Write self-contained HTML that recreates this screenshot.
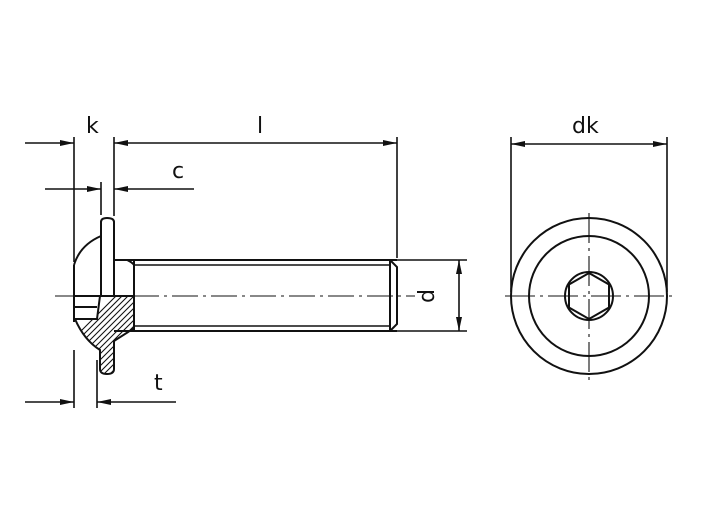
<!DOCTYPE html>
<html><head><style>body{margin:0;background:#fff}svg{display:block}text{font-family:"DejaVu Sans","Liberation Sans",sans-serif;font-size:22px;fill:#111}</style></head>
<body>
<svg width="706" height="519" viewBox="0 0 706 519" xmlns="http://www.w3.org/2000/svg">
<defs>
<marker id="a" viewBox="0 0 14 6" refX="14" refY="3" markerWidth="14" markerHeight="6" orient="auto" markerUnits="userSpaceOnUse"><path d="M0,0L14,3L0,6z" fill="#111"/></marker>
<clipPath id="c"><path d="M100,296 L134,296 L134,328 Q130,331 114,341 L114,369 Q114,374 107,374 Q100,374 100,369 L100,350 Q84,340 75,319 L97,319 Z"/></clipPath>
</defs>
<g clip-path="url(#c)" stroke="#111" stroke-width="1.1">
<path d="M40,420 L180,280 M46,420 L186,280 M52,420 L192,280 M58,420 L198,280 M64,420 L204,280 M70,420 L210,280 M76,420 L216,280 M82,420 L222,280 M88,420 L228,280 M94,420 L234,280 M100,420 L240,280 M106,420 L246,280 M112,420 L252,280 M118,420 L258,280 M124,420 L264,280 M130,420 L270,280 M34,420 L174,280 M28,420 L168,280 M22,420 L162,280 M16,420 L156,280 M10,420 L150,280 M4,420 L144,280 M-2,420 L138,280 M-8,420 L132,280"/>
</g>
<g stroke="#111" stroke-width="2" fill="none">
<path d="M100,296 L134,296 L134,328 Q130,331 114,341 L114,369 Q114,374 107,374 Q100,374 100,369 L100,350 Q84,340 75,319 L97,319 Z"/>
<path d="M74,265 Q80,245 101,236"/>
<line x1="74" y1="265" x2="74" y2="322"/>
<path d="M101,296 L101,222 Q101,218 107,218 Q114,218 114,222 L114,296"/>
<line x1="74" y1="307" x2="97" y2="307"/>
<line x1="74" y1="296" x2="100" y2="296"/>
<path d="M114,260 L127,260 Q132,262 134,265"/>
<line x1="114" y1="260" x2="397" y2="260"/>
<line x1="114" y1="331" x2="397" y2="331"/>
<line x1="134" y1="260" x2="134" y2="331"/>
<line x1="134" y1="265" x2="390" y2="265" stroke-width="1.6"/>
<line x1="134" y1="326" x2="390" y2="326" stroke-width="1.6"/>
<path d="M390,260 L397,267 L397,324 L390,331"/>
<line x1="390" y1="260" x2="390" y2="331"/>
<line x1="55" y1="296" x2="415" y2="296" stroke-width="1.1" stroke-dasharray="26,5,3,5"/>
<g stroke-width="1.6">
<line x1="74" y1="137" x2="74" y2="262"/>
<line x1="74" y1="350" x2="74" y2="408"/>
<line x1="114" y1="137" x2="114" y2="216"/>
<line x1="101" y1="182" x2="101" y2="215"/>
<line x1="97" y1="360" x2="97" y2="408"/>
<line x1="397" y1="137" x2="397" y2="258"/>
<line x1="397" y1="260" x2="467" y2="260"/>
<line x1="397" y1="331" x2="467" y2="331"/>
<line x1="511" y1="137" x2="511" y2="292"/>
<line x1="667" y1="137" x2="667" y2="292"/>
<line x1="25" y1="143" x2="74" y2="143" marker-end="url(#a)"/>
<line x1="145" y1="143" x2="114" y2="143" marker-end="url(#a)"/>
<line x1="145" y1="143" x2="397" y2="143" marker-end="url(#a)"/>
<line x1="45" y1="189" x2="101" y2="189" marker-end="url(#a)"/>
<line x1="194" y1="189" x2="114" y2="189" marker-end="url(#a)"/>
<line x1="25" y1="402" x2="74" y2="402" marker-end="url(#a)"/>
<line x1="176" y1="402" x2="97" y2="402" marker-end="url(#a)"/>
<line x1="459" y1="296" x2="459" y2="260" marker-end="url(#a)"/>
<line x1="459" y1="296" x2="459" y2="331" marker-end="url(#a)"/>
<line x1="589" y1="144" x2="511" y2="144" marker-end="url(#a)"/>
<line x1="589" y1="144" x2="667" y2="144" marker-end="url(#a)"/>
</g>
<circle cx="589" cy="296" r="78"/>
<circle cx="589" cy="296" r="60"/>
<circle cx="589" cy="296" r="24"/>
<polygon points="589,273 609,284.5 609,307.5 589,319 569,307.5 569,284.5"/>
<line x1="505" y1="296" x2="673" y2="296" stroke-width="1.1" stroke-dasharray="30,5,3,5"/>
<line x1="589" y1="213" x2="589" y2="380" stroke-width="1.1" stroke-dasharray="30,5,3,5"/>
</g>
<text x="86" y="133">k</text>
<text x="257" y="133">l</text>
<text x="172" y="178">c</text>
<text x="154" y="390">t</text>
<text x="572" y="133">dk</text>
<text transform="translate(426,296) rotate(-90)" text-anchor="middle" dy="8">d</text>
</svg>
</body></html>
